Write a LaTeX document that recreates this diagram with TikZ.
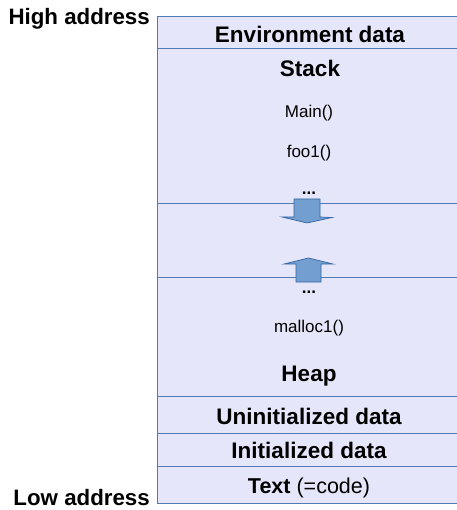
\documentclass[tikz,border=0pt]{standalone}
\usepackage{fontspec}
\setmainfont{Liberation Sans}
\definecolor{memfill}{HTML}{E6E6FA}
\definecolor{memline}{HTML}{4F7BB5}
\definecolor{arrfill}{HTML}{729FCF}
\definecolor{arrline}{HTML}{3465A4}
\tikzset{
  title/.style={anchor=base, inner sep=0pt, font=\fontsize{22.5}{26}\selectfont\bfseries},
  small/.style={anchor=base, inner sep=0pt, font=\fontsize{17}{20}\selectfont},
  addr/.style={anchor=base east, inner sep=0pt, font=\fontsize{22.3}{26}\selectfont\bfseries},
  sep/.style={draw=memline, line width=1pt},
  growarrow/.style={fill=arrfill, draw=arrline, line width=0.7pt, line join=miter}
}
\begin{document}
\begin{tikzpicture}[x=1pt,y=-1pt]
\useasboundingbox (0,0) rectangle (456,510);
% memory block
\fill[memfill] (157,17) rectangle (470,503);
\foreach \yy in {49,204,277,396,433,466} \draw[sep] (157,\yy) -- (470,\yy);
\draw[sep] (470,17) -- (157,17) -- (157,503) -- (470,503);
% texts
\node[addr] (high) at (150,25) {High address};
\node[addr] (low) at (150,505.5) {Low address};
\node[title] (env) at (310,43) {Environment data};
\node[title] (stack) at (310,77) {Stack};
\node[small] (main) at (309,118) {Main()};
\node[small] (foo) at (309,158) {foo1()};
\node[small, font=\fontsize{17}{20}\selectfont\bfseries] (dots1) at (309,195) {...};
\node[small, font=\fontsize{17}{20}\selectfont\bfseries] (dots2) at (309,293) {...};
\node[small] (malloc) at (309,332) {malloc1()};
\node[title] (heap) at (309,381) {Heap};
\node[title] (uninit) at (309,424) {Uninitialized data};
\node[title] (init) at (309,458) {Initialized data};
\node[anchor=base, inner sep=0pt, font=\fontsize{21.5}{26}\selectfont] (text) at (309,493) {\textbf{Text} (=code)};
% growth arrows
\draw[growarrow] (294,199) -- (320,199) -- (320,217) -- (332,217.5) -- (307,223) -- (282,217) -- (294,217) -- cycle;
\draw[growarrow] (296,282) -- (321,282) -- (321,264) -- (333,264) -- (308.5,258) -- (284,264) -- (296,264) -- cycle;
\end{tikzpicture}
\end{document}
